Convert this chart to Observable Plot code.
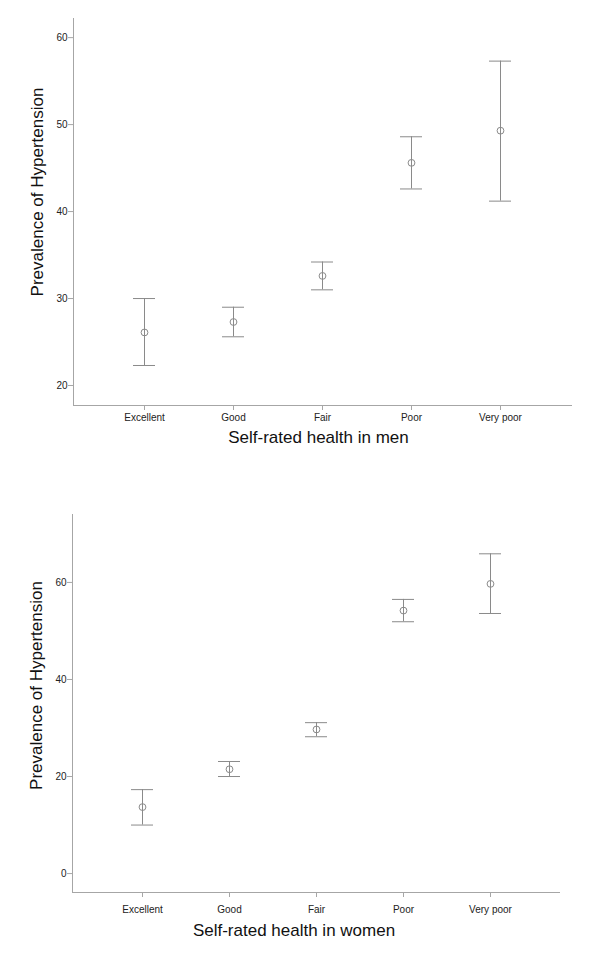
<!DOCTYPE html>
<html>
<head>
<meta charset="utf-8">
<script src="https://cdn.jsdelivr.net/npm/d3@7"></script>
<script src="https://cdn.jsdelivr.net/npm/@observablehq/plot@0.6"></script>
<style>
  html, body { margin: 0; padding: 0; background: #fff; }
  #chart svg { display: block; }
</style>
</head>
<body>
<div id="chart"></div>
<script>
const categories = ["Excellent", "Good", "Fair", "Poor", "Very poor"];
const menMean  = [26.1, 27.3, 32.6, 45.6, 49.3];
const menLow   = [22.3, 25.6, 31.0, 42.6, 41.2];
const menHigh  = [30.0, 29.0, 34.2, 48.6, 57.3];
const womenMean = [13.7, 21.5, 29.7, 54.2, 59.7];
const womenLow  = [10.0, 20.0, 28.2, 51.9, 53.6];
const womenHigh = [17.3, 23.1, 31.1, 56.5, 65.9];
const menTicks = [20, 30, 40, 50, 60];
const womenTicks = [0, 20, 40, 60];
const yTitle = "Prevalence of Hypertension";
const menTitle = "Self-rated health in men";
const womenTitle = "Self-rated health in women";

const FONT = "'Liberation Sans', Arial, Helvetica, sans-serif";
const BAR = "#8a8a8a";
const AXIS = "#a6a6a6";

function rows(mean, lo, hi) {
  return categories.map((c, i) => ({cat: c, mean: mean[i], lo: lo[i], hi: hi[i]}));
}

function chart(opts) {
  const data = rows(opts.mean, opts.lo, opts.hi);
  return Plot.plot({
    width: 600,
    height: opts.height,
    marginTop: opts.mt,
    marginBottom: opts.mb,
    marginLeft: opts.ml,
    marginRight: opts.mr,
    style: {fontFamily: FONT, fontSize: "10px", color: "#222", background: "#fff"},
    x: {type: "band", domain: categories, paddingInner: 0.752, paddingOuter: 0.655, label: null},
    y: {domain: opts.ydomain, label: null},
    marks: [
      Plot.frame({anchor: "left", stroke: AXIS}),
      Plot.frame({anchor: "bottom", stroke: AXIS}),
      Plot.axisY({ticks: opts.ticks, tickSize: 5, tickPadding: 1, stroke: AXIS, fill: "#222", fontSize: 10}),
      Plot.axisX({tickSize: 5, tickPadding: opts.xpad, stroke: AXIS, fill: "#222", fontSize: 10}),
      Plot.ruleX(data, {x: "cat", y1: "lo", y2: "hi", stroke: BAR, strokeWidth: 1}),
      Plot.tickY(data, {x: "cat", y: "hi", stroke: BAR, strokeWidth: 1}),
      Plot.tickY(data, {x: "cat", y: "lo", stroke: BAR, strokeWidth: 1}),
      Plot.dot(data, {x: "cat", y: "mean", r: 3.4, stroke: BAR, strokeWidth: 1, fill: "none"}),
      Plot.text([yTitle], {frameAnchor: "left", textAnchor: "middle", rotate: -90, dx: -36, dy: opts.ydy, fontSize: 17, fill: "#111", text: d => d}),
      Plot.text([opts.xTitle], {frameAnchor: "bottom", dx: opts.xdx, dy: opts.xdy, fontSize: 17, fill: "#111", text: d => d})
    ]
  });
}

const el = document.getElementById("chart");
el.appendChild(chart({
  mean: menMean, lo: menLow, hi: menHigh,
  height: 484, mt: 18, mb: 79, ml: 73, mr: 29,
  ydomain: [17.7, 62.2], ticks: menTicks, xpad: 3,
  ydy: -20, xTitle: menTitle, xdx: -4, xdy: 37
}));
el.appendChild(chart({
  mean: womenMean, lo: womenLow, hi: womenHigh,
  height: 485, mt: 30, mb: 77, ml: 72, mr: 41,
  ydomain: [-3.9, 74.0], ticks: womenTicks, xpad: 8,
  ydy: -18, xTitle: womenTitle, xdx: -22, xdy: 43
}));
</script>
</body>
</html>
